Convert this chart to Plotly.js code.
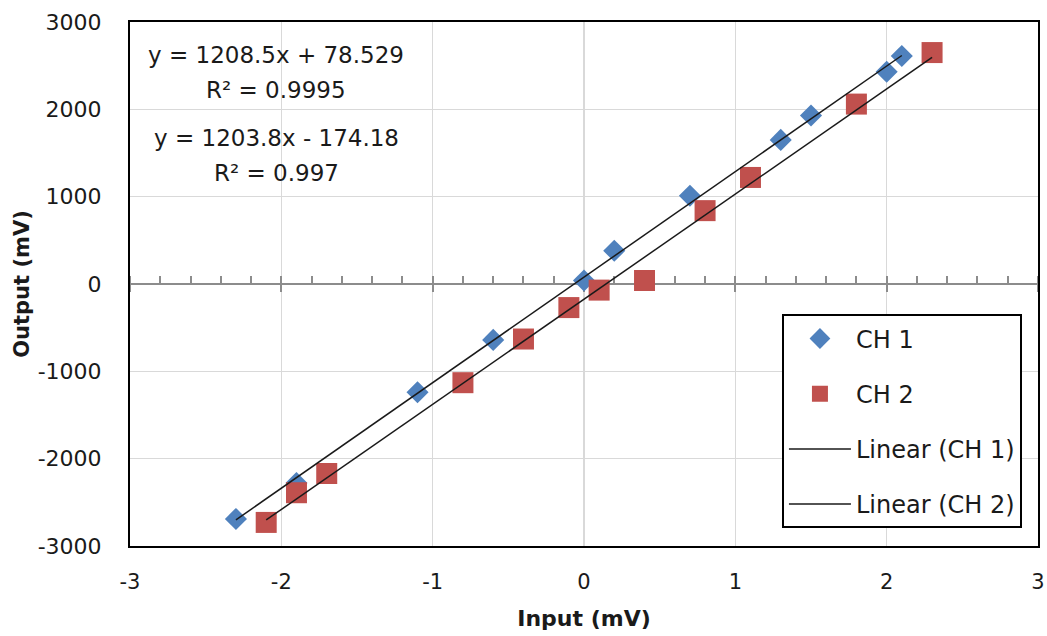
<!DOCTYPE html>
<html>
<head>
<meta charset="utf-8">
<script src="https://cdn.plot.ly/plotly-3.0.1.min.js"></script>
<style>
  html, body { margin: 0; padding: 0; background: #ffffff; }
  #chart { width: 1047px; height: 636px; }
</style>
</head>
<body>
<div id="chart"></div>
<script>
// ---- Data ----
const ch1X = [-2.3, -1.9, -1.1, -0.6, 0.0, 0.2, 0.7, 1.3, 1.5, 2.0, 2.1];
const ch1Y = [-2690, -2280, -1240, -640, 40, 380, 1010, 1650, 1930, 2430, 2610];
const ch2X = [-2.1, -1.9, -1.7, -0.8, -0.4, -0.1, 0.1, 0.4, 0.8, 1.1, 1.8, 2.3];
const ch2Y = [-2730, -2390, -2170, -1130, -630, -270, -70, 40, 840, 1220, 2060, 2650];

// Trendline coefficients as printed on the chart
const slopes = [1208.5, 1203.8];
const intercepts = [78.529, -174.18];
const rSquared = ["0.9995", "0.997"];
const eqTexts = ["y = 1208.5x + 78.529", "y = 1203.8x - 174.18"];

const seriesNames = ["CH 1", "CH 2"];
const trendNames = ["Linear (CH 1)", "Linear (CH 2)"];

const xTickVals = [-3, -2, -1, 0, 1, 2, 3];
const xTickText = ["-3", "-2", "-1", "0", "1", "2", "3"];
const yTickVals = [-3000, -2000, -1000, 0, 1000, 2000, 3000];
const yTickText = ["-3000", "-2000", "-1000", "0", "1000", "2000", "3000"];

// ---- Build traces ----
function trendLine(xs, i) {
  const x0 = Math.min(...xs), x1 = Math.max(...xs);
  return { x: [x0, x1], y: [slopes[i] * x0 + intercepts[i], slopes[i] * x1 + intercepts[i]] };
}
const t1 = trendLine(ch1X, 0);
const t2 = trendLine(ch2X, 1);

const FONT = "DejaVu Sans";
const TXT = "#1a1a1a";

const traces = [
  { x: ch1X, y: ch1Y, name: seriesNames[0], type: "scatter", mode: "markers",
    legendgroup: "a", legendrank: 1,
    marker: { symbol: "diamond", size: 17, color: "#4F81BD" } },
  { x: ch2X, y: ch2Y, name: seriesNames[1], type: "scatter", mode: "markers",
    legendgroup: "b", legendrank: 2,
    marker: { symbol: "square", size: 21, color: "#C0504D" } },
  { x: t1.x, y: t1.y, name: trendNames[0], type: "scatter", mode: "lines",
    legendgroup: "c", legendrank: 3,
    line: { color: "#1a1a1a", width: 1.5 } },
  { x: t2.x, y: t2.y, name: trendNames[1], type: "scatter", mode: "lines",
    legendgroup: "d", legendrank: 4,
    line: { color: "#1a1a1a", width: 1.5 } },
  // empty helpers so the axes through y = 0 get drawn
  { x: [], y: [], xaxis: "x2", yaxis: "y", showlegend: false, hoverinfo: "skip" },
  { x: [], y: [], xaxis: "x3", yaxis: "y", showlegend: false, hoverinfo: "skip" }
];

const annX = 0.161;
const annotations = [
  { text: eqTexts[0], y: 0.937 },
  { text: "R² = " + rSquared[0], y: 0.870 },
  { text: eqTexts[1], y: 0.779 },
  { text: "R² = " + rSquared[1], y: 0.712 }
].map(a => ({
  xref: "paper", yref: "paper", x: annX, y: a.y, xanchor: "center", yanchor: "middle",
  text: a.text, showarrow: false, font: { family: FONT, size: 23, color: TXT }
}));

const layout = {
  width: 1047, height: 636,
  margin: { l: 130, r: 9, t: 22, b: 90 },
  paper_bgcolor: "#ffffff", plot_bgcolor: "#ffffff",
  showlegend: true,
  xaxis: {
    range: [-3, 3], tickvals: xTickVals, ticktext: xTickText,
    showgrid: true, gridcolor: "#d9d9d9", gridwidth: 1.5,
    zeroline: false, showline: true, mirror: true, linecolor: "#000000", linewidth: 2,
    ticks: "", ticklabelstandoff: 16,
    tickfont: { family: FONT, size: 21, color: TXT },
    title: { text: "<b>Input (mV)</b>", font: { family: FONT, size: 22, color: TXT }, standoff: 17 }
  },
  xaxis2: {
    overlaying: "x", anchor: "free", position: 0.5, range: [-3, 3],
    showgrid: false, zeroline: false, showticklabels: false,
    showline: true, linecolor: "#8c8c8c", linewidth: 2, layer: "below traces",
    tickmode: "linear", tick0: 0, dtick: 1, ticks: "outside", ticklen: 7, tickwidth: 2, tickcolor: "#8c8c8c",
    minor: { tickmode: "linear", tick0: 0, dtick: 0.2, ticks: "inside", ticklen: 7, tickwidth: 2, tickcolor: "#8c8c8c", showgrid: false }
  },
  xaxis3: {
    overlaying: "x", anchor: "free", position: 0.5, range: [-3, 3],
    showgrid: false, zeroline: false, showticklabels: false, showline: false, layer: "below traces",
    tickmode: "linear", tick0: 0, dtick: 1, ticks: "inside", ticklen: 7, tickwidth: 2, tickcolor: "#8c8c8c"
  },
  yaxis: {
    range: [-3000, 3000], tickvals: yTickVals, ticktext: yTickText,
    showgrid: true, gridcolor: "#d9d9d9", gridwidth: 1.5,
    zeroline: false, showline: true, mirror: true, linecolor: "#000000", linewidth: 2,
    ticks: "", ticklabelstandoff: 22,
    tickfont: { family: FONT, size: 22, color: TXT },
    title: { text: "<b>Output (mV)</b>", font: { family: FONT, size: 21, color: TXT }, standoff: 2 }
  },
  legend: {
    x: 0.718, y: 0.442, xanchor: "left", yanchor: "top",
    bgcolor: "#ffffff", bordercolor: "#000000", borderwidth: 2,
    font: { family: FONT, size: 24, color: TXT },
    traceorder: "grouped", tracegroupgap: 21, itemwidth: 62
  },
  annotations: annotations
};

Plotly.newPlot("chart", traces, layout, { displayModeBar: false, staticPlot: true });
</script>
</body>
</html>
